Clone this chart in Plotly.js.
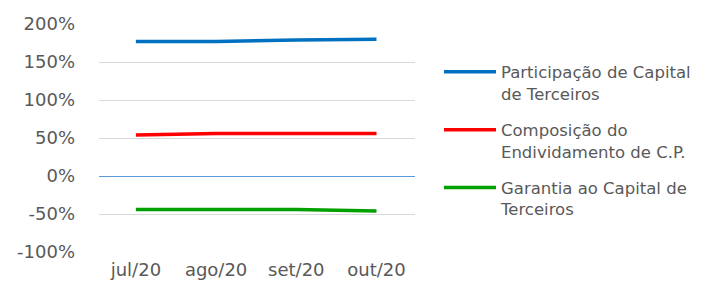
<!DOCTYPE html>
<html>
<head>
<meta charset="utf-8">
<script src="https://cdn.plot.ly/plotly-3.0.1.min.js"></script>
<style>html,body{margin:0;padding:0;background:#fff;}</style>
</head>
<body>
<div id="chart" style="width:705px;height:294px;"></div>
<script>
const categories = ["jul/20", "ago/20", "set/20", "out/20"];
const participacao = [1.77, 1.77, 1.79, 1.80];
const composicao = [0.54, 0.56, 0.56, 0.56];
const garantia = [-0.44, -0.44, -0.44, -0.46];
const seriesNames = ["Participação de Capital<br>de Terceiros", "Composição do<br>Endividamento de C.P.", "Garantia ao Capital de<br>Terceiros"];
const seriesColors = ["#0070c0", "#ff0000", "#00a000"];
const yTickVals = [-1, -0.5, 0, 0.5, 1, 1.5, 2];
const yTickText = ["-100%", "-50%", "0%", "50%", "100%", "150%", "200%"];

const FONT = "DejaVu Sans, sans-serif";
const data = [participacao, composicao, garantia].map((vals, i) => ({
  x: categories, y: vals, type: "scatter", mode: "lines",
  name: seriesNames[i], legendgroup: "g" + i,
  line: {color: seriesColors[i], width: 3.5}
}));

const layout = {
  width: 705, height: 294,
  margin: {l: 99, r: 290, t: 24, b: 42, autoexpand: false},
  paper_bgcolor: "#fff", plot_bgcolor: "#fff",
  font: {family: FONT, color: "#595959", size: 17},
  xaxis: {
    type: "category", range: [-0.46, 3.48], showgrid: false, zeroline: false,
    showline: false, ticks: "", ticklabelstandoff: 5, automargin: false,
    tickfont: {family: FONT, size: 18, color: "#595959"}
  },
  yaxis: {
    range: [-1, 2], tickvals: yTickVals, ticktext: yTickText,
    showgrid: true, gridcolor: "#d9d9d9", gridwidth: 1,
    zeroline: true, zerolinecolor: "#5b9bd5", zerolinewidth: 1,
    showline: false, ticks: "", ticklabelstandoff: 23, automargin: false,
    tickfont: {family: FONT, size: 18, color: "#595959"}
  },
  showlegend: true,
  legend: {
    x: 1.0759, xanchor: "left", y: 0.866, yanchor: "top",
    valign: "top", itemwidth: 52, tracegroupgap: 12,
    font: {family: FONT, size: 16.5, color: "#595959"},
    bgcolor: "rgba(0,0,0,0)", borderwidth: 0
  }
};

Plotly.newPlot("chart", data, layout, {displayModeBar: false, staticPlot: true}).then(() => {
  document.querySelectorAll("#chart .legendlines path").forEach(p => p.setAttribute("d", "M5,0h52"));
});
</script>
</body>
</html>
